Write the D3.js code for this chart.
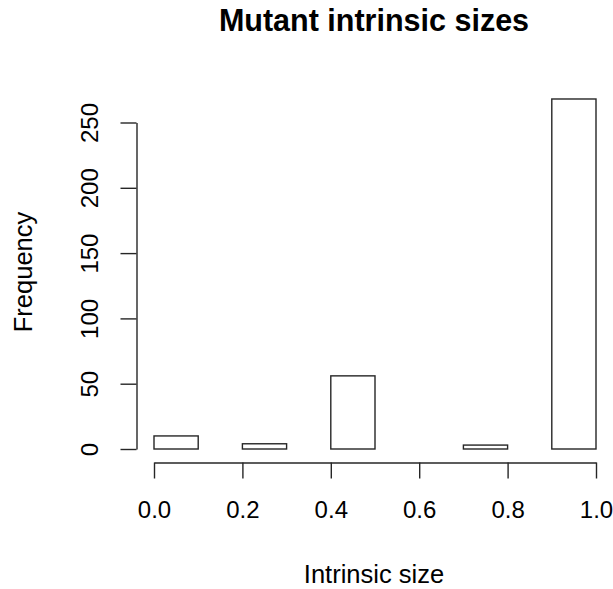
<!DOCTYPE html>
<html>
<head>
<meta charset="utf-8">
<script src="https://cdn.jsdelivr.net/npm/d3@7"></script>
<style>
  body { margin: 0; background: #fff; }
  text { font-family: "Liberation Sans", Arial, sans-serif; fill: #000; }
</style>
</head>
<body>
<div id="chart"></div>
<script>
// histogram bins (break points) and counts
var breaks = [0.0, 0.1, 0.2, 0.3, 0.4, 0.5, 0.6, 0.7, 0.8, 0.9, 1.0];
var counts = [10, 0, 4, 0, 56, 0, 0, 3, 0, 268];
var xTicks = [0, 0.2, 0.4, 0.6, 0.8, 1.0];
var yTicks = [0, 50, 100, 150, 200, 250];

var width = 613, height = 589;
var lineColor = "#262626";

var svg = d3.select("#chart")
  .append("svg")
    .attr("width", width)
    .attr("height", height);

var x = d3.scaleLinear().domain([0, 1]).range([154, 596]);
var y = d3.scaleLinear().domain([0, 250]).range([449, 122.5]);

// bars
var bins = counts.map(function(c, i) { return {x0: breaks[i], x1: breaks[i + 1], n: c}; });
svg.selectAll("rect.bar")
  .data(bins)
  .enter()
  .append("rect")
    .attr("class", "bar")
    .attr("x", function(d) { return x(d.x0); })
    .attr("width", function(d) { return x(d.x1) - x(d.x0); })
    .attr("y", function(d) { return y(d.n); })
    .attr("height", function(d) { return y(0) - y(d.n); })
    .attr("fill", "#fff")
    .attr("stroke", lineColor)
    .attr("stroke-width", 1.4);

// x axis
var xAxis = svg.append("g")
  .attr("transform", "translate(0,462.5)")
  .call(d3.axisBottom(x).tickValues(xTicks).tickSize(16).tickSizeOuter(0)
    .tickFormat(d3.format(".1f")));
xAxis.select(".domain").attr("stroke", lineColor).attr("stroke-width", 1.4);
xAxis.selectAll(".tick line").attr("stroke", lineColor).attr("stroke-width", 1.4);
xAxis.selectAll(".tick text")
  .attr("y", 0).attr("dy", null)
  .attr("transform", "translate(0,55.5)")
  .style("font-size", "24px");

// y axis
var yAxis = svg.append("g")
  .attr("transform", "translate(136.5,0)")
  .call(d3.axisLeft(y).tickValues(yTicks).tickSize(16).tickSizeOuter(0));
yAxis.select(".domain").attr("stroke", lineColor).attr("stroke-width", 1.4);
yAxis.selectAll(".tick line").attr("stroke", lineColor).attr("stroke-width", 1.4);
yAxis.selectAll(".tick text")
  .attr("x", 0).attr("dy", null)
  .attr("text-anchor", "middle")
  .attr("transform", "translate(-38.5,0) rotate(-90)")
  .style("font-size", "24px");

// title and labels
svg.append("text")
  .attr("x", 374).attr("y", 31)
  .attr("text-anchor", "middle")
  .style("font-size", "30.5px")
  .style("font-weight", "bold")
  .text("Mutant intrinsic sizes");

svg.append("text")
  .attr("x", 374).attr("y", 583)
  .attr("text-anchor", "middle")
  .style("font-size", "25.5px")
  .text("Intrinsic size");

svg.append("text")
  .attr("transform", "translate(32,272) rotate(-90)")
  .attr("text-anchor", "middle")
  .style("font-size", "25.5px")
  .text("Frequency");
</script>
</body>
</html>
